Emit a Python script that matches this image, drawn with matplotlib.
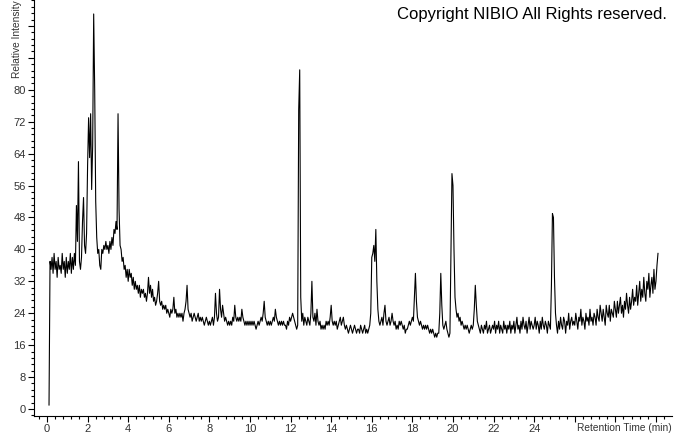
import numpy as np
import matplotlib
matplotlib.use("Agg")
import matplotlib.pyplot as plt
from matplotlib.ticker import MultipleLocator

plt.rcParams['font.family'] = ['Liberation Sans', 'DejaVu Sans']

t_step = 0.05
intensity = [
    # 0 min
    np.nan, np.nan, 1, 37, 35, 38, 34, 39, 35, 37, 33, 38, 35, 36, 34, 39, 35, 37, 33, 38,
    # 1 min
    34, 37, 35, 39, 34, 38, 35, 39, 36, 51, 42, 62, 37, 35, 38, 47, 53, 41, 39, 44,
    # 2 min
    61, 73, 63, 74, 55, 66, 99, 80, 52, 43, 39, 40, 36, 35, 40, 39, 41, 40, 42, 40,
    # 3 min
    41, 39, 42, 40, 43, 41, 45, 44, 47, 45, 74, 50, 41, 40, 37, 38, 35, 36, 33, 35,
    # 4 min
    32, 35, 33, 34, 31, 33, 30, 32, 30, 31, 29, 31, 28, 30, 29, 30, 28, 29, 27, 29,
    # 5 min
    33, 29, 31, 28, 30, 27, 28, 26, 27, 29, 32, 27, 26, 27, 25, 26, 25, 26, 24, 25,
    # 6 min
    24, 23, 25, 24, 25, 28, 24, 25, 23, 24, 23, 24, 23, 24, 22, 24, 25, 27, 31, 25,
    # 7 min
    24, 23, 24, 22, 23, 24, 23, 22, 23, 24, 22, 23, 22, 23, 22, 21, 22, 23, 22, 21,
    # 8 min
    22, 21, 22, 23, 21, 23, 29, 24, 22, 23, 30, 25, 23, 26, 24, 22, 23, 22, 21, 22,
    # 9 min
    21, 22, 21, 23, 22, 26, 23, 22, 23, 22, 23, 22, 25, 23, 22, 21, 22, 21, 22, 21,
    # 10 min
    22, 21, 22, 21, 22, 21, 20, 21, 22, 21, 22, 23, 22, 24, 27, 23, 22, 21, 22, 21,
    # 11 min
    22, 21, 22, 23, 22, 25, 23, 22, 21, 22, 21, 22, 21, 22, 21, 21, 20, 22, 21, 23,
    # 12 min
    22, 23, 24, 23, 22, 21, 20, 21, 75, 85, 28, 22, 24, 21, 23, 22, 21, 23, 22, 21,
    # 13 min
    24, 32, 23, 22, 24, 21, 25, 22, 21, 22, 20, 21, 20, 21, 20, 22, 21, 22, 21, 23,
    # 14 min
    26, 22, 21, 22, 21, 22, 20, 21, 22, 23, 21, 22, 23, 21, 20, 21, 20, 19, 20, 21,
    # 15 min
    20, 19, 20, 21, 20, 19, 20, 20, 19, 21, 20, 19, 20, 21, 19, 20, 19, 20, 21, 24,
    # 16 min
    38, 39, 41, 37, 45, 32, 25, 22, 21, 22, 23, 21, 24, 26, 22, 21, 22, 23, 21, 22,
    # 17 min
    24, 22, 21, 22, 20, 21, 20, 22, 21, 22, 21, 20, 21, 19, 20, 20, 21, 22, 21, 22,
    # 18 min
    23, 22, 28, 34, 27, 23, 22, 21, 22, 21, 20, 21, 20, 21, 20, 21, 20, 19, 20, 19,
    # 19 min
    20, 19, 18, 19, 18, 19, 19, 24, 34, 26, 21, 20, 21, 22, 20, 19, 18, 19, 40, 59,
    # 20 min
    56, 40, 28, 25, 23, 24, 22, 23, 21, 22, 21, 20, 21, 20, 21, 20, 19, 20, 21, 20,
    # 21 min
    21, 25, 31, 26, 22, 21, 20, 19, 21, 20, 19, 21, 20, 22, 19, 20, 21, 19, 20, 21,
    # 22 min
    20, 22, 19, 21, 20, 22, 19, 21, 20, 19, 22, 20, 21, 19, 21, 20, 22, 19, 21, 20,
    # 23 min
    22, 19, 21, 23, 20, 21, 19, 22, 20, 23, 21, 20, 22, 19, 21, 23, 20, 22, 21, 20,
    # 24 min
    21, 23, 20, 22, 21, 19, 22, 20, 23, 21, 20, 22, 21, 19, 22, 21, 20, 31, 49, 48,
    # 25 min
    33, 24, 21, 19, 22, 20, 23, 21, 20, 23, 22, 19, 22, 21, 24, 20, 22, 23, 21, 22,
    # 26 min
    21, 24, 22, 20, 23, 22, 25, 21, 23, 22, 20, 24, 22, 23, 21, 25, 22, 23, 21, 24,
    # 27 min
    23, 21, 25, 23, 22, 26, 24, 22, 25, 23, 21, 26, 24, 23, 26, 22, 25, 24, 23, 27,
    # 28 min
    25, 23, 27, 24, 26, 28, 24, 26, 23, 27, 25, 29, 26, 24, 28, 25, 27, 30, 26, 28,
    # 29 min
    27, 31, 26, 29, 32, 27, 30, 28, 33, 29, 27, 32, 30, 34, 28, 31, 33, 29, 35, 30,
    # 30 min
    32, 36, 39,
]
time = np.arange(len(intensity)) * t_step

y_ticks = [0, 8, 16, 24, 32, 40, 48, 56, 64, 72, 80, 88, 96]
y_labels = ["0", "8", "16", "24", "32", "40", "48", "56", "64", "72", "80", "", ""]
x_ticks = [0, 2, 4, 6, 8, 10, 12, 14, 16, 18, 20, 22, 24, 26, 28, 30]
x_labels = ["0", "2", "4", "6", "8", "10", "12", "14", "16", "18", "20", "22", "24", "", "", ""]

fig = plt.figure(figsize=(6.74, 4.34), dpi=100)
ax = fig.add_axes([34 / 674, 18 / 434, 638 / 674, 416 / 434])

ax.plot(time, intensity, color='black', linewidth=0.8)

ax.set_xlim(-0.64, 30.79)
ax.set_ylim(-1.75, 102.5)

ax.set_xticks(x_ticks)
ax.set_xticklabels(x_labels)
ax.set_yticks(y_ticks)
ax.set_yticklabels(y_labels)
ax.xaxis.set_minor_locator(MultipleLocator(0.4))
ax.yaxis.set_minor_locator(MultipleLocator(1.6))
ax.tick_params(which='major', length=4, width=0.8, labelsize=8, labelcolor='#333333', pad=2)
ax.tick_params(which='minor', length=2.5, width=0.8)

for side in ['top', 'right']:
    ax.spines[side].set_visible(False)
for side in ['left', 'bottom']:
    ax.spines[side].set_linewidth(0.8)

# axis titles sit where the top / right tick labels would be
fig.text(17 / 674, 1 - 78 / 434, "Relative Intensity", rotation=90,
         ha='center', va='bottom', fontsize=7.3, color='#333333')
fig.text(672 / 674, 1 - 428 / 434, "Retention Time (min)",
         ha='right', va='center', fontsize=7.3, color='#333333')
fig.text(667 / 674, 1 - 14 / 434, "Copyright NIBIO All Rights reserved.",
         ha='right', va='center', fontsize=12, color='black')

fig.savefig("out.png", dpi=100)
